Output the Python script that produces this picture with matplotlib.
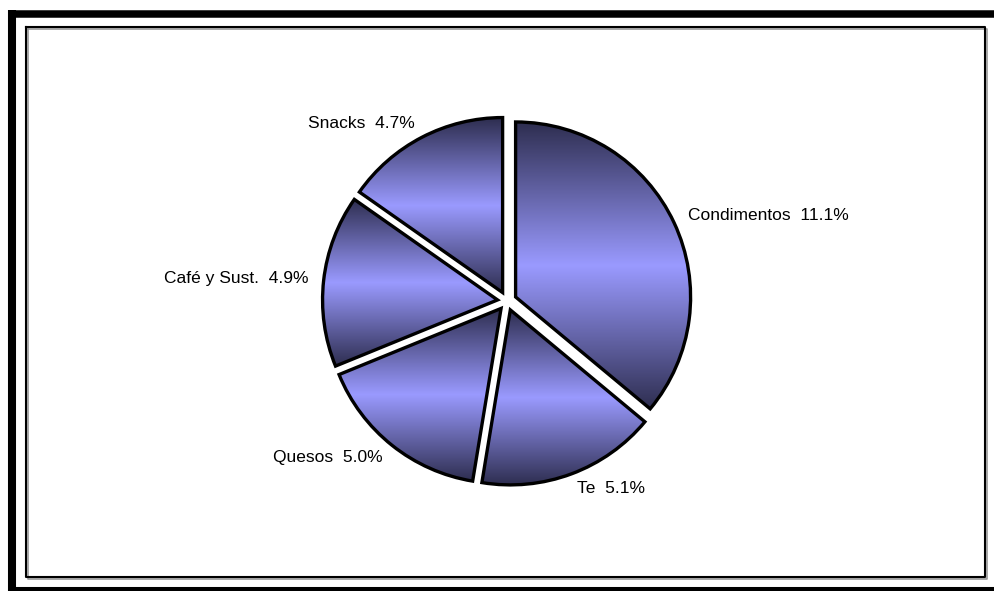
import numpy as np
import matplotlib
matplotlib.use("Agg")
import matplotlib.pyplot as plt
from matplotlib.colors import to_rgb

categories = ["Condimentos", "Te", "Quesos", "Café y Sust.", "Snacks"]
shares = [11.1, 5.1, 5.0, 4.9, 4.7]

W, H = 994, 591
dark = np.array(to_rgb("#2e2e50"))
light = np.array(to_rgb("#9a9aff"))

plt.rcParams['font.family'] = ['Liberation Sans', 'DejaVu Sans']

fig = plt.figure(figsize=(W / 100, H / 100), dpi=100)
ax = fig.add_axes([0, 0, 1, 1])

# pie laid out in pixel units (y up)
cx, cy, R = 507, H - 301, 175
labels = ["%s  %.1f%%" % (c, v) for c, v in zip(categories, shares)]
wedges, texts = ax.pie(shares, labels=labels, center=(cx, cy), radius=R,
                       explode=[9.5] * len(shares), startangle=90,
                       counterclock=False, labeldistance=1.09, frame=True,
                       wedgeprops=dict(facecolor="none", edgecolor="black",
                                       linewidth=2.4, joinstyle="miter"),
                       textprops=dict(fontsize=12.5, color="black"))

# label alignment relative to the pie centre, not the axes origin
for w, t in zip(wedges, texts):
    mid = np.radians(0.5 * (w.theta1 + w.theta2))
    t.set_ha("left" if np.cos(mid) > 0 else "right")

# vertical dark-light-dark shading per slice, clipped to the slice
ramp = np.linspace(-1, 1, 256)
prof = np.abs(ramp)[:, None]
grad = light + (dark - light) * prof
grad = grad[:, None, :]
for w in wedges:
    t = np.radians(np.linspace(w.theta1, w.theta2, 200))
    xs = np.r_[w.center[0], w.center[0] + w.r * np.cos(t)]
    ys = np.r_[w.center[1], w.center[1] + w.r * np.sin(t)]
    im = ax.imshow(grad, extent=(xs.min(), xs.max(), ys.min(), ys.max()),
                   origin="lower", aspect="auto", interpolation="bilinear",
                   zorder=0.5)
    im.set_clip_path(w)

# outer heavy frame and inner plot border
ax.plot([12, 12], [H - 10, -10], color="black", lw=5.8, solid_capstyle="butt")
ax.plot([8, W + 10], [H - 13.5, H - 13.5], color="black", lw=5.4, solid_capstyle="butt")
ax.plot([8, W + 10], [H - 591, H - 591], color="black", lw=5.8, solid_capstyle="butt")
bx = [26, 985, 985, 26, 26]
by = [H - 27, H - 27, H - 577, H - 577, H - 27]
ax.plot([x + 1.5 for x in bx], [y - 1.5 for y in by], color="#999999", lw=1.2)
ax.plot(bx, by, color="black", lw=1.5)

ax.set_xlim(0, W)
ax.set_ylim(0, H)
ax.set_aspect("equal")
ax.axis("off")

fig.savefig("out.png", dpi=100, facecolor="white")
